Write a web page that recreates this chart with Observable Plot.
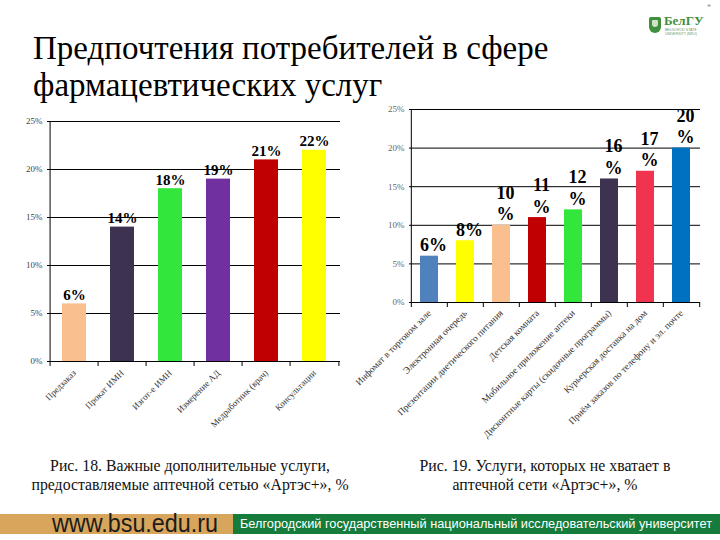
<!DOCTYPE html>
<html><head><meta charset="utf-8">
<script src="https://cdn.jsdelivr.net/npm/d3@7"></script>
<script src="https://cdn.jsdelivr.net/npm/@observablehq/plot@0.6"></script>
<style>
body{margin:0;width:720px;height:540px;position:relative;background:#fff;overflow:hidden;font-family:"Liberation Serif","Times New Roman",serif}
.abs{position:absolute}
.cap{position:absolute;text-align:center;font-family:"Liberation Serif",serif;font-size:15.8px;line-height:19px;color:#111;white-space:nowrap}
</style></head><body>
<div class="abs" style="left:33px;top:30px;font-family:'Liberation Serif',serif;font-size:33px;line-height:37px;color:#000;white-space:nowrap">Предпочтения потребителей в сфере<br>фармацевтических услуг</div>

<div class="abs" style="left:649px;top:17px;width:12px;height:16px;background:#3f8f3f;border-radius:2px 2px 6px 6px"></div>
<div class="abs" style="left:652px;top:20px;width:6px;height:7px;background:#cfe3c6;border-radius:1px 1px 3px 3px"></div>
<div class="abs" style="left:664px;top:14px;font-size:13px;line-height:14px;color:#3f8f3f;font-weight:bold">БелГУ</div>
<div class="abs" style="left:665px;top:28px;font-size:3.5px;line-height:4px;color:#6a9a6a;font-family:'Liberation Sans',sans-serif">BELGOROD STATE<br>UNIVERSITY (NRU)</div>
<div class="abs" style="left:707px;top:3px;font-size:8px;color:#888">*</div>

<div id="c1" class="abs" style="left:0;top:100px"></div>
<div id="c2" class="abs" style="left:330px;top:90px"></div>

<div class="cap" style="left:0;width:380px;top:456px">Рис. 18. Важные дополнительные услуги,<br>предоставляемые аптечной сетью «Артэс+», %</div>
<div class="cap" style="left:360px;width:370px;top:456px">Рис. 19. Услуги, которых не хватает в<br>аптечной сети «Артэс+», %</div>

<div class="abs" style="left:0;top:514px;width:233px;height:20px;background:#d7a55c"></div>
<div class="abs" style="left:233px;top:514px;width:487px;height:20px;background:#157c3c"></div>
<svg class="abs" style="left:0;top:508px" width="720" height="32">
  <text x="52" y="24" font-family="Liberation Sans, sans-serif" font-size="25" fill="#1c1c1c" textLength="166" lengthAdjust="spacingAndGlyphs">www.bsu.edu.ru</text>
  <text x="240" y="20" font-family="Liberation Sans, sans-serif" font-size="12" fill="#fff" textLength="472" lengthAdjust="spacingAndGlyphs">Белгородский государственный национальный исследовательский университет</text>
</svg>

<script>
// Chart 1 (Рис. 18)
const services1 = ["Предзаказ", "Прокат ИМН", "Изгот-е ИМН", "Измерение АД", "Медработник (врач)", "Консультации"];
const values1 = [6, 14, 18, 19, 21, 22];
const labels1 = ["6%", "14%", "18%", "19%", "21%", "22%"];
const colors1 = ["#f9bf8f", "#3d3350", "#33e63c", "#7030a0", "#c00000", "#ffff00"];

// Chart 2 (Рис. 19)
const services2 = ["Инфомат в торговом зале", "Электронная очередь", "Презентации диетического питания", "Детская комната", "Мобильное приложение аптеки", "Дисконтные карты (скидочные программы)", "Курьерская доставка на дом", "Приём заказов по телефону и эл. почте"];
const values2 = [6, 8, 10, 11, 12, 16, 17, 20];
const labels2 = ["6%", "8%", "10\n%", "11\n%", "12\n%", "16\n%", "17\n%", "20\n%"];
const colors2 = ["#4f81bd", "#ffff00", "#f9bf8f", "#c00000", "#33e63c", "#3d3350", "#f0344f", "#0070c0"];

const yTicks = [0, 5, 10, 15, 20, 25];

function barChart(o) {
  const data = o.cats.map((c, i) => ({cat: c, value: o.vals[i], label: o.labels[i], color: o.colors[i]}));
  const height = o.mt + o.plotH + o.mb;
  const step = (o.width - o.ml - o.mr) / o.cats.length;
  const last = [o.cats[o.cats.length - 1]];
  return Plot.plot({
    width: o.width, height,
    marginLeft: o.ml, marginRight: o.mr, marginTop: o.mt, marginBottom: o.mb,
    style: {fontFamily: "'Liberation Serif', serif", background: "transparent", color: "#222"},
    x: {domain: o.cats, paddingInner: 0.5, paddingOuter: 0.25, label: null},
    y: {domain: [0, 25], label: null},
    marks: [
      Plot.ruleY([5, 10, 15, 20, 25], {stroke: "#000", strokeWidth: 1}),
      Plot.barY(data, {x: "cat", y: "value", fill: "color"}),
      Plot.ruleY([0], {stroke: "#000"}),
      Plot.ruleX([o.cats[0]], {dx: -step / 2, y1: 0, y2: 25, stroke: "#000"}),
      Plot.ruleX(o.cats, {dx: -step / 2, y1: 0, y2: 0, insetBottom: -5, stroke: "#000"}),
      Plot.ruleX(last, {dx: step / 2, y1: 0, y2: 0, insetBottom: -5, stroke: "#000"}),
      Plot.text(data, {x: "cat", y: "value", text: "label", dy: o.labelDy, dx: o.labelDx, lineAnchor: "bottom", lineHeight: o.lineHeight, fontWeight: "bold", fontSize: o.labelSize, fill: "#000"}),
      Plot.axisY({ticks: yTicks, tickFormat: d => d + "%", tickSize: 0, tickPadding: 5, fontSize: o.yFont, fill: o.yColor}),
      Plot.axisX({tickRotate: -45, tickSize: 0, tickPadding: o.xPad, fontSize: o.xFont, fill: "#333"})
    ]
  });
}

document.getElementById("c1").append(barChart({
  cats: services1, vals: values1, labels: labels1, colors: colors1,
  width: 360, ml: 47, mr: 20, mt: 21, plotH: 240, mb: 89,
  labelSize: 15, labelDy: -4, labelDx: 0, lineHeight: 1, yFont: 9, yColor: "#444", xPad: 10, xFont: 9
}));
document.getElementById("c2").append(barChart({
  cats: services2, vals: values2, labels: labels2, colors: colors2,
  width: 390, ml: 79, mr: 20, mt: 19, plotH: 193, mb: 150,
  labelSize: 18, labelDy: -5, labelDx: 4, lineHeight: 1.2, yFont: 9, yColor: "#666", xPad: 9, xFont: 9.5
}));
</script>
</body></html>
